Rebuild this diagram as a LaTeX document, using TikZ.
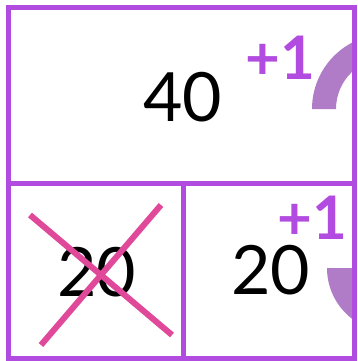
\documentclass[tikz,border=0pt]{standalone}
\usepackage{fontspec}
\setmainfont{Lato}
\definecolor{boxpurple}{HTML}{B24BE0}
\definecolor{arcpurple}{HTML}{B07CC8}
\definecolor{crosspink}{HTML}{E0489A}
\tikzset{
  grid/.style={draw=boxpurple, line width=5pt},
  num/.style={font=\fontsize{68}{68}\selectfont, text=black, inner sep=0pt},
  plus/.style={font=\bfseries\fontsize{60}{60}\selectfont, text=boxpurple, inner sep=0pt},
  cross/.style={draw=crosspink, line width=6pt},
}
\begin{document}
\begin{tikzpicture}[x=1pt,y=-1pt]
\useasboundingbox (0,0) rectangle (357,361);
\fill[white] (0,0) rectangle (357,361);
% arcs clipped to box interior
\begin{scope}
\clip (8,8) rectangle (354.5,358);
\fill[arcpurple] (312,109) arc[start angle=180, end angle=270, radius=75] -- ++(0,24) arc[start angle=270, end angle=180, radius=51] -- cycle;
\fill[arcpurple] (327,268) arc[start angle=180, end angle=90, radius=64] -- ++(0,-30) arc[start angle=90, end angle=180, radius=34] -- cycle;
\end{scope}
% grid
\coordinate (tl) at (8,8);
\coordinate (br) at (354.5,358);
\draw[grid] (tl) rectangle (br);
\coordinate (ml) at (8,183.5);
\coordinate (mr) at (354.5,183.5);
\coordinate (mt) at (183,183.5);
\coordinate (mb) at (183,358);
\draw[grid] (ml) -- (mr);
\draw[grid] (mt) -- (mb);
% numbers
\node[num] (n40) at (182.5,97.5) {40};
\node[num] (n20a) at (96.5,272) {20};
\node[num] (n20b) at (270.5,270) {20};
\node[plus] (p1) at (280.5,57.5) {+1};
\node[plus] (p2) at (312.5,217.5) {+1};
% cross
\coordinate (c1) at (30,215);
\coordinate (c2) at (172,335);
\coordinate (c3) at (161,205);
\coordinate (c4) at (41,345);
\draw[cross] (c1) -- (c2);
\draw[cross] (c3) -- (c4);
\end{tikzpicture}
\end{document}
